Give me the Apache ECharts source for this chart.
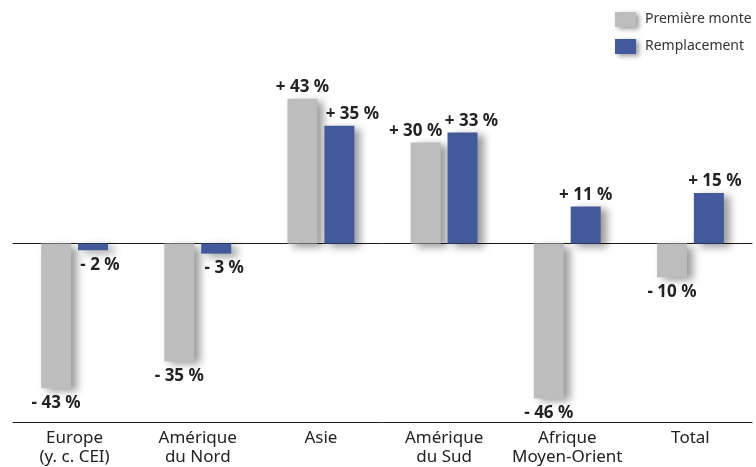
<!DOCTYPE html>
<html>
<head>
<meta charset="utf-8">
<script src="https://cdn.jsdelivr.net/npm/echarts@6/dist/echarts.min.js"></script>
<style>
  html, body { margin: 0; padding: 0; background: #fff; }
  #chart { width: 756px; height: 467px; }
</style>
</head>
<body>
<div id="chart"></div>
<script>
// Regions and year-on-year change (%) for the two tyre markets
const regions = ['Europe\n(y. c. CEI)', 'Amérique\ndu Nord', 'Asie', 'Amérique\ndu Sud', 'Afrique\nMoyen-Orient', 'Total'];
const seriesNames = ['Première monte', 'Remplacement'];
const premiereMonte = [-43, -35, 43, 30, -46, -10];
const remplacement = [-2, -3, 35, 33, 11, 15];

// Horizontal nudges for labels that would otherwise collide
const shiftPM = [0, 0, 0, -10, 0, 0];
const shiftRE = [7, 8, 13, 9, 0, 6];

const FONT = 'Noto Sans';

function fmt(v) {
  return (v >= 0 ? '+ ' : '- ') + Math.abs(v) + ' %';
}

function withLabels(values, shifts) {
  return values.map((v, i) => ({
    value: v,
    label: {
      position: v >= 0 ? 'top' : 'bottom',
      distance: v >= 0 ? 3 : 6,
      offset: [shifts[i], 0]
    }
  }));
}

const shadow = {
  shadowBlur: 8,
  shadowOffsetX: 6,
  shadowOffsetY: 3,
  shadowColor: 'rgba(0,0,0,0.4)'
};

const labelStyle = {
  show: true,
  formatter: p => fmt(p.value),
  fontFamily: FONT,
  fontSize: 17,
  fontWeight: 'bold',
  color: '#222'
};

const chart = echarts.init(document.getElementById('chart'), null, { renderer: 'canvas' });
chart.setOption({
  animation: false,
  backgroundColor: '#fff',
  textStyle: { fontFamily: FONT },
  legend: {
    orient: 'vertical',
    left: 615,
    top: 12,
    padding: 0,
    itemWidth: 21,
    itemHeight: 15,
    itemGap: 12,
    icon: 'rect',
    data: seriesNames,
    itemStyle: Object.assign({}, shadow, { shadowBlur: 5, shadowOffsetX: 3, shadowOffsetY: 2 }),
    textStyle: { fontFamily: FONT, fontSize: 14, color: '#333', padding: [0, 0, 0, 4] }
  },
  grid: { left: 13, right: 4, top: 75.15, bottom: 44, containLabel: false },
  xAxis: [
    {
      type: 'category',
      data: regions,
      axisLine: { onZero: false, lineStyle: { color: '#1a1a1a', width: 1 } },
      axisTick: { show: false },
      axisLabel: { fontFamily: FONT, fontSize: 17, color: '#222', lineHeight: 19, margin: 7, interval: 0 }
    },
    {
      type: 'category',
      data: regions,
      position: 'bottom',
      axisLine: { onZero: true, lineStyle: { color: '#1a1a1a', width: 1 } },
      axisTick: { show: false },
      axisLabel: { show: false }
    }
  ],
  yAxis: {
    type: 'value',
    min: -53,
    max: 50,
    show: false,
    splitLine: { show: false }
  },
  series: [
    {
      name: seriesNames[0],
      type: 'bar',
      barWidth: 30,
      barGap: '23%',
      itemStyle: Object.assign({ color: '#bdbdbd' }, shadow),
      label: labelStyle,
      data: withLabels(premiereMonte, shiftPM)
    },
    {
      name: seriesNames[1],
      type: 'bar',
      barWidth: 30,
      barGap: '23%',
      itemStyle: Object.assign({ color: '#425a9c' }, shadow),
      label: labelStyle,
      data: withLabels(remplacement, shiftRE)
    }
  ]
});
</script>
</body>
</html>
